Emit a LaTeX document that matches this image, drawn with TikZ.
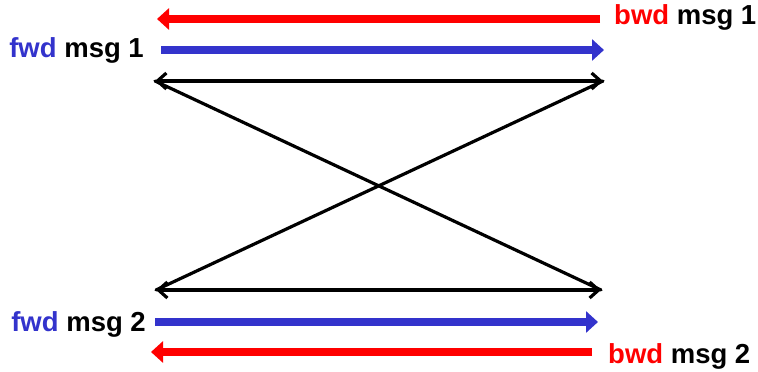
\documentclass[tikz,border=0pt]{standalone}
\usepackage{fontspec}
\setmainfont{Liberation Sans}
\usetikzlibrary{positioning,arrows.meta}
\definecolor{fwdblue}{RGB}{51,51,204}
\definecolor{bwdred}{RGB}{255,0,0}

\begin{document}
\begin{tikzpicture}[
    x=1pt, y=1pt,
    lbl/.style={inner sep=0pt, font=\fontsize{27.5}{32}\selectfont\bfseries},
    msg/.style={line width=7.5pt, -{Triangle[length=12pt,width=21pt]}},
    link/.style={line width=3.2pt, line cap=round},
    tips/.style={{Straight Barb[length=9pt,width=16pt]}-{Straight Barb[length=9pt,width=16pt]}}
  ]
  \useasboundingbox (0,0) rectangle (758,372);

  % corners of the cross
  \coordinate (tl) at (155,291);
  \coordinate (tr) at (603,291);
  \coordinate (bl) at (156,82);
  \coordinate (br) at (601,82);

  % arrow ends
  \coordinate (b1s) at (600,353);
  \coordinate (b1e) at (157,353);
  \coordinate (f1s) at (161,322);
  \coordinate (f1e) at (604,322);
  \coordinate (f2s) at (155,50);
  \coordinate (f2e) at (598,50);
  \coordinate (b2s) at (592,20);
  \coordinate (b2e) at (151,20);

  % labels
  \node[lbl, anchor=base west] (bwd1) at (614,347) {\textcolor{bwdred}{bwd} msg 1};
  \node[lbl, anchor=base east] (fwd1) at (144,314) {\textcolor{fwdblue}{fwd} msg 1};
  \node[lbl, anchor=base east] (fwd2) at (146,40) {\textcolor{fwdblue}{fwd} msg 2};
  \node[lbl, anchor=base west] (bwd2) at (608,8) {\textcolor{bwdred}{bwd} msg 2};

  \draw[msg, bwdred] (b1s) -- (b1e);
  \draw[msg, fwdblue] (f1s) -- (f1e);
  \draw[msg, fwdblue] (f2s) -- (f2e);
  \draw[msg, bwdred] (b2s) -- (b2e);

  \draw[link, tips] (tl) -- (tr);
  \draw[link, tips] (bl) -- (br);
  \draw[link] (tl) -- (br);
  \draw[link] (tr) -- (bl);
\end{tikzpicture}
\end{document}
